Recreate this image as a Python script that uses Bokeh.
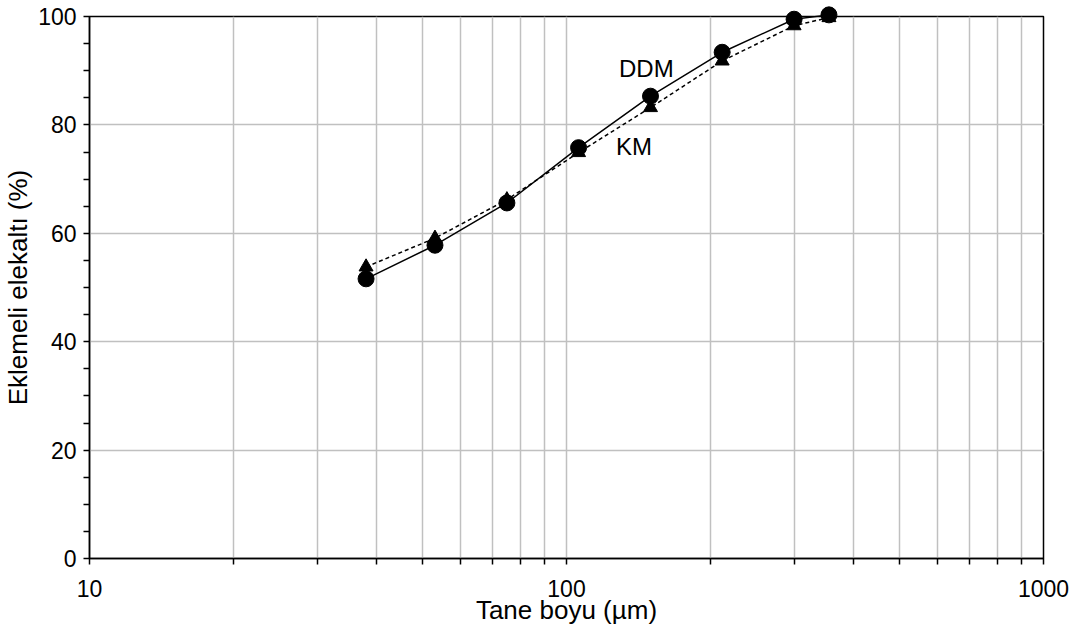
from bokeh.plotting import figure
from bokeh.models import FixedTicker, BasicTickFormatter, Range1d
from bokeh.core.properties import value
from bokeh.embed import file_html
from bokeh.resources import INLINE

# Sieve sizes (µm) and cumulative passing (%) for the two methods
size_um = [38, 53, 75, 106, 150, 212, 300, 355]
ddm_pass = [51.6, 57.8, 65.6, 75.8, 85.3, 93.4, 99.5, 100.3]
km_pass = [53.8, 59.1, 66.2, 74.9, 83.2, 91.8, 98.3, 99.8]

x_major = [10, 100, 1000]
x_minor = [20, 30, 40, 50, 60, 70, 80, 90, 200, 300, 400, 500, 600, 700, 800, 900]
y_major = [0, 20, 40, 60, 80, 100]
y_minor = [5, 10, 15, 25, 30, 35, 45, 50, 55, 65, 70, 75, 85, 90, 95]

series_names = ["DDM", "KM"]
name_x = [147, 138.5]
name_y = [90.4, 76.0]

FONT = "Liberation Sans"

p = figure(
    width=1080, height=632,
    x_axis_type="log",
    x_range=Range1d(10, 1000), y_range=Range1d(0, 100),
    output_backend="svg", toolbar_location=None,
    min_border_left=88, min_border_right=37, min_border_top=16, min_border_bottom=74,
)
p.background_fill_color = "white"
p.border_fill_color = "white"
p.outline_line_color = "black"
p.outline_line_width = 1.5
p.outline_line_alpha = 1.0

# axes
p.xaxis.ticker = FixedTicker(ticks=x_major, minor_ticks=x_minor)
p.xaxis.formatter = BasicTickFormatter()
p.yaxis.ticker = FixedTicker(ticks=y_major, minor_ticks=y_minor)
for ax in (p.xaxis[0], p.yaxis[0]):
    ax.axis_line_color = "black"
    ax.axis_line_width = 1.5
    ax.major_tick_line_color = "black"
    ax.major_tick_line_width = 1.5
    ax.minor_tick_line_color = "black"
    ax.minor_tick_line_width = 1.5
    ax.major_tick_in = 0
    ax.major_tick_out = 6
    ax.minor_tick_in = 0
    ax.minor_tick_out = 6
    ax.major_label_text_font = FONT
    ax.major_label_text_font_size = "23px"
    ax.major_label_text_color = "black"
    ax.axis_label_text_font = FONT
    ax.axis_label_text_font_size = "26px"
    ax.axis_label_text_font_style = "normal"
    ax.axis_label_text_color = "black"

p.xaxis.axis_label = "Tane boyu (µm)"
p.yaxis.axis_label = "Eklemeli elekaltı (%)"
p.xaxis.major_label_standoff = 15
p.yaxis.major_label_standoff = 7
p.xaxis.axis_label_standoff = -5
p.yaxis.axis_label_standoff = 2

# grid
p.xgrid.grid_line_color = "#c0c0c0"
p.xgrid.grid_line_width = 1.5
p.xgrid.minor_grid_line_color = "#c0c0c0"
p.xgrid.minor_grid_line_width = 1.5
p.ygrid.grid_line_color = "#c0c0c0"
p.ygrid.grid_line_width = 1.5
p.ygrid.minor_grid_line_color = None

# series
p.line(size_um, km_pass, line_color="black", line_width=1.5, line_dash="4 3", level="overlay")
p.line(size_um, ddm_pass, line_color="black", line_width=1.5, level="overlay")
p.scatter(size_um, km_pass, marker="triangle", size=14, fill_color="black",
          line_color="black", level="overlay")
p.scatter(size_um, ddm_pass, marker="circle", size=16, fill_color="black",
          line_color="black", level="overlay")

p.text(x=name_x, y=name_y, text=series_names, text_font=value(FONT),
       text_font_size="24px", text_color="black", text_align="center",
       text_baseline="alphabetic")

open("out.html", "w").write(file_html(p, INLINE))
